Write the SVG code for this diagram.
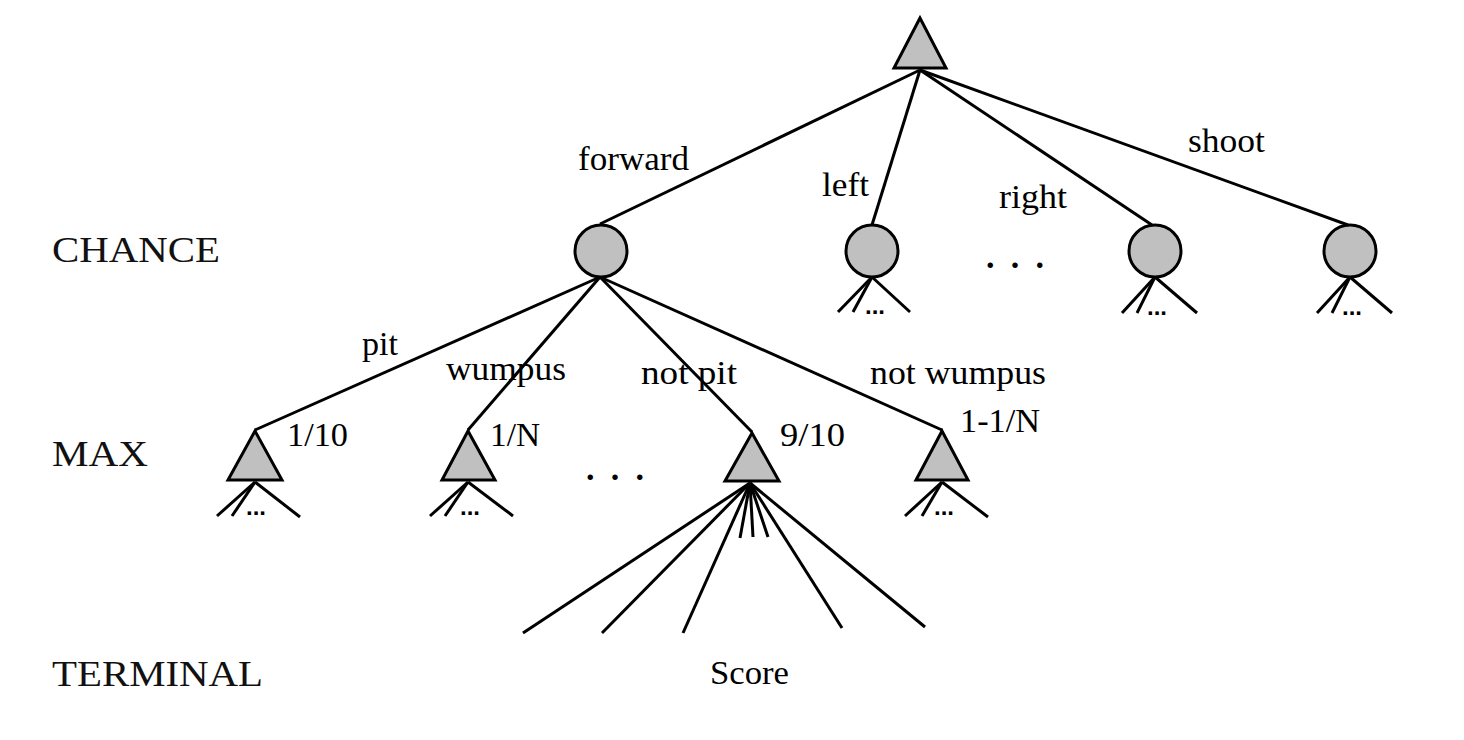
<svg xmlns="http://www.w3.org/2000/svg" width="1464" height="740" viewBox="0 0 1464 740">
<style>
.n{fill:#c0c0c0;stroke:#000;stroke-width:3;stroke-linejoin:miter}
.e line{stroke:#000;stroke-width:3;stroke-linecap:butt}
.t{font-family:"Liberation Serif","Times New Roman",serif;font-size:34px;fill:#000}
.lv{font-family:"Liberation Serif","Times New Roman",serif;font-size:36px;fill:#111}
.d{font-family:"Liberation Sans",Arial,sans-serif;font-size:24px;font-weight:bold;fill:#000}
.bd{font-family:"Liberation Serif",serif;font-size:34px;font-weight:bold;fill:#000}
</style>
<rect width="1464" height="740" fill="#fff"/>
<g id="connectors" class="e">
<line x1="920" y1="70" x2="600" y2="224"/>
<line x1="920" y1="70" x2="872" y2="225"/>
<line x1="920" y1="70" x2="1152" y2="225"/>
<line x1="920" y1="70" x2="1348" y2="225"/>
<line x1="600" y1="277" x2="255" y2="430"/>
<line x1="600" y1="277" x2="468" y2="430"/>
<line x1="600" y1="277" x2="752" y2="432"/>
<line x1="600" y1="277" x2="942" y2="430"/>
<line x1="872" y1="277" x2="838" y2="312"/>
<line x1="872" y1="277" x2="853" y2="312"/>
<line x1="872" y1="277" x2="910" y2="312"/>
<line x1="1155" y1="277" x2="1122" y2="313"/>
<line x1="1155" y1="277" x2="1137" y2="313"/>
<line x1="1155" y1="277" x2="1197" y2="313"/>
<line x1="1350" y1="277" x2="1317" y2="313"/>
<line x1="1350" y1="277" x2="1332" y2="313"/>
<line x1="1350" y1="277" x2="1392" y2="313"/>
<line x1="255" y1="482" x2="217" y2="516"/>
<line x1="255" y1="482" x2="232" y2="516"/>
<line x1="255" y1="482" x2="300" y2="517"/>
<line x1="468" y1="482" x2="430" y2="516"/>
<line x1="468" y1="482" x2="445" y2="516"/>
<line x1="468" y1="482" x2="513" y2="516"/>
<line x1="942" y1="482" x2="905" y2="516"/>
<line x1="942" y1="482" x2="922" y2="516"/>
<line x1="942" y1="482" x2="988" y2="517"/>
<line x1="750" y1="483" x2="523" y2="633"/>
<line x1="750" y1="483" x2="602" y2="633"/>
<line x1="750" y1="483" x2="683" y2="633"/>
<line x1="750" y1="483" x2="740" y2="538"/>
<line x1="750" y1="483" x2="753" y2="537"/>
<line x1="750" y1="483" x2="768" y2="537"/>
<line x1="750" y1="483" x2="842" y2="628"/>
<line x1="750" y1="483" x2="925" y2="627"/>
</g>
<g id="root"><polygon class="n" points="920,18 894,68 946,68"/></g>
<g id="c-forward"><circle class="n" cx="601" cy="251" r="26"/></g>
<g id="c-left"><circle class="n" cx="872" cy="251" r="26"/><text class="d" x="865" y="314">...</text></g>
<g id="c-right"><circle class="n" cx="1155" cy="251" r="26"/><text class="d" x="1147" y="315">...</text></g>
<g id="c-shoot"><circle class="n" cx="1350" cy="251" r="26"/><text class="d" x="1342" y="315">...</text></g>
<g id="m-pit"><polygon class="n" points="255,431 228,480 282,480"/><text class="d" x="246" y="515">...</text></g>
<g id="m-wumpus"><polygon class="n" points="468,431 442,480 495,480"/><text class="d" x="460" y="515">...</text></g>
<g id="m-notpit"><polygon class="n" points="752,433 725,481 779,481"/></g>
<g id="m-notwumpus"><polygon class="n" points="942,431 916,480 968,480"/><text class="d" x="934" y="515">...</text></g>
<g id="labels">
<text class="t" x="578" y="170" textLength="111" lengthAdjust="spacingAndGlyphs">forward</text>
<text class="t" x="822" y="196" textLength="47" lengthAdjust="spacingAndGlyphs">left</text>
<text class="t" x="999" y="208" textLength="68" lengthAdjust="spacingAndGlyphs">right</text>
<text class="t" x="1188" y="152" textLength="77" lengthAdjust="spacingAndGlyphs">shoot</text>
<text class="bd" x="986" y="268" textLength="58" lengthAdjust="spacing">. . .</text>
<text class="t" x="362" y="355" textLength="36" lengthAdjust="spacingAndGlyphs">pit</text>
<text class="t" x="446" y="380" textLength="120" lengthAdjust="spacingAndGlyphs">wumpus</text>
<text class="t" x="641" y="384" textLength="96" lengthAdjust="spacingAndGlyphs">not pit</text>
<text class="t" x="870" y="384" textLength="176" lengthAdjust="spacingAndGlyphs">not wumpus</text>
<text class="t" x="287" y="446" textLength="61" lengthAdjust="spacingAndGlyphs">1/10</text>
<text class="t" x="490" y="446" textLength="50" lengthAdjust="spacingAndGlyphs">1/N</text>
<text class="t" x="780" y="446" textLength="65" lengthAdjust="spacingAndGlyphs">9/10</text>
<text class="t" x="960" y="432" textLength="80" lengthAdjust="spacingAndGlyphs">1-1/N</text>
<text class="bd" x="586" y="480" textLength="58" lengthAdjust="spacing">. . .</text>
<text class="t" x="710" y="684" textLength="79" lengthAdjust="spacingAndGlyphs">Score</text>
<text class="lv" x="52" y="262" textLength="168" lengthAdjust="spacingAndGlyphs">CHANCE</text>
<text class="lv" x="52" y="466" textLength="96" lengthAdjust="spacingAndGlyphs">MAX</text>
<text class="lv" x="52" y="686" textLength="211" lengthAdjust="spacingAndGlyphs">TERMINAL</text>
</g>
</svg>
